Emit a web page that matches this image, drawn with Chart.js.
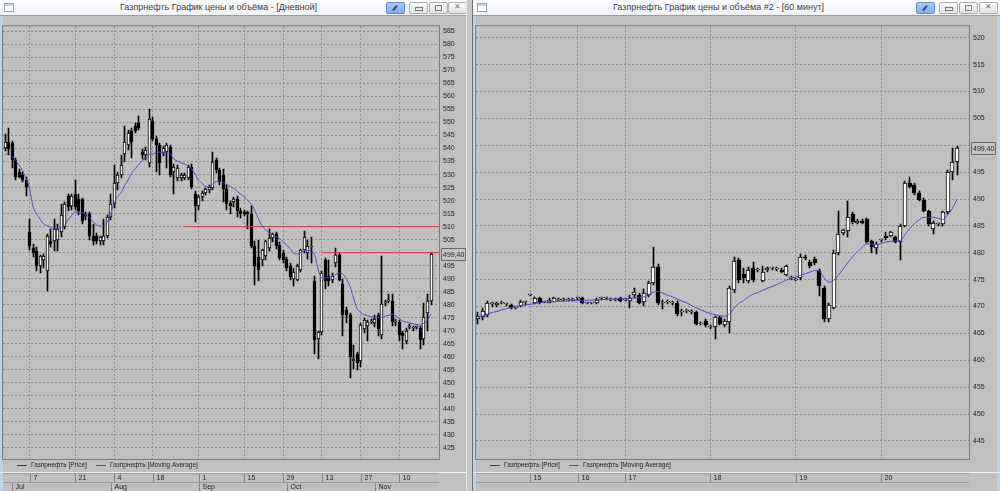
<!DOCTYPE html>
<html lang="ru">
<head>
<meta charset="UTF-8">
<title>Газпрнефть График цены и объёма</title>
<script src="https://cdn.jsdelivr.net/npm/chart.js"></script>
<style>
  html, body { margin: 0; padding: 0; }
  body { width: 1000px; height: 491px; overflow: hidden; background: #c0c0c0; position: relative; font-family: "Liberation Sans", Arial, sans-serif; }
  .win { position: absolute; top: 0; height: 491px; background: #c0c0c0; overflow: hidden; }
  .win canvas { position: absolute; left: 0; top: 18px; }
  .edge { position: absolute; top: 16px; bottom: 0; width: 3px; background: #bdd3ec; }
  .bar { position: absolute; left: 0; right: 0; top: 0; height: 15px; background: linear-gradient(#ffffff, #edf0f5); border-bottom: 1px solid #9c9c9c; }
  .bar .title { position: absolute; top: 2px; font-size: 9px; color: #3c3c3c; white-space: nowrap; }
  .bar .icon { position: absolute; left: 4px; top: 3px; width: 8px; height: 7px; border: 1px solid #8aa0bb; background: linear-gradient(#c5d6ea 0 2px, #ffffff 2px); }
  .btn { position: absolute; top: 2px; width: 17px; height: 10px; border: 1px solid #a9a9a9; border-radius: 2px; background: linear-gradient(#fbfbfb, #e2e2e2); }
  .btn.pin { background: linear-gradient(#a8ccf4, #7cafe9); border-color: #5b8ecf; }
  .btn.pin::after { content: ""; position: absolute; left: 7px; top: 2px; width: 2px; height: 6px; background: #23467a; transform: rotate(40deg); }
  .btn.min::after { content: ""; position: absolute; left: 5px; top: 4px; width: 6px; height: 2px; border: 1px solid #7a7a7a; }
  .btn.max::after { content: ""; position: absolute; left: 5px; top: 2px; width: 5px; height: 4px; border: 1px solid #7a7a7a; }
  .btn.cls::after { content: "\2715"; position: absolute; left: 5px; top: -1px; font-size: 8px; color: #7a7a7a; }
  .split { position: absolute; top: 0; left: 466px; width: 7px; height: 491px; background: linear-gradient(90deg, #e8e8e8 0 1px, #c8c8c8 1px 6px, #6f6f6f 6px); }
</style>
</head>
<body>

<div class="win" style="left:0;width:466px;">
  <div class="bar">
    <span class="icon"></span>
    <span class="title" style="left:120px;">Газпрнефть График цены и объёма - [Дневной]</span>
    <span class="btn pin" style="left:386px;"></span>
    <span class="btn min" style="left:409px;"></span>
    <span class="btn max" style="left:429px;"></span>
    <span class="btn cls" style="left:448px;"></span>
  </div>
  <div class="edge" style="left:0;"></div>
  <canvas id="dayChart" width="466" height="473"></canvas>
</div>
<div class="split"></div>
<div class="win" style="left:473px;width:527px;">
  <div class="bar">
    <span class="icon"></span>
    <span class="title" style="left:140px;">Газпрнефть График цены и объёма #2 - [60 минут]</span>
    <span class="btn pin" style="left:443px;"></span>
    <span class="btn min" style="left:466px;"></span>
    <span class="btn max" style="left:486px;"></span>
    <span class="btn cls" style="left:506px;"></span>
  </div>
  <div class="edge" style="left:0;"></div>
  <div class="edge" style="right:0;"></div>
  <canvas id="hourChart" width="527" height="473"></canvas>
</div>

<script>
// Daily chart (Дневной)
const dayOpen = [540.1,542.5,542,535.6,531,530,528,508,501.6,500.5,
  494.8,497,493,504.6,504.6,505,508,510,521.6,518,
  522.4,520.5,520.5,514,514.8,506.5,506.5,504.6,504.6,506.5,
  513.7,518.6,526.9,529.9,538,541.2,546.9,548.8,549.9,538.6,
  537.5,534.4,550.6,543.8,541.2,538.2,538.6,540.5,531,528.8,
  528.8,528.8,528.8,533,522.4,517.8,521.2,523,524,525,
  535.6,531.8,530,524.5,519,519.5,520.5,516,515.5,515.5,
  514.8,502.7,498.5,497.1,498.6,501.6,505.5,507,503,500,
  497.5,495,490,489.5,493.3,500.9,500,502,489.2,466.9,
  469.5,497.1,491,489.5,495.9,499,488,478,476,458.2,
  461,458.2,470.7,471.8,473.3,473,476,468.4,480.8,481.6,
  481.6,473.3,473.3,469,466,471.5,471.2,471.4,471,466.9,
  477,481.6];
const dayHigh = [545.7,548,543,536.5,532,531,529,513,503.5,502,
  499,499.5,507,509,512.9,511,518.6,519.5,522.5,522.5,
  528,522.5,521,515.5,515.5,511,507.5,506.5,513,514.5,
  522.4,533.7,531,537.5,548.8,547,548,550,552.5,540,
  540.5,555.2,552,545,542,541,542,541.5,534,533.5,
  530.5,530.5,533.5,534,523.5,522,523.5,525,526,538.6,
  536.5,532.5,532,526,520,521.5,521.6,517,516.5,516,
  518,504.6,505,501.5,505,509,507.5,508,504,501,
  498.5,496,494,495.5,501.5,508.4,505,506,491,470,
  493,498,497,492,501.6,500,490,479,477,464.5,
  462,473,475,474,474.5,476,477,498.6,482,484,
  484,474.5,474,470,471,472.5,472,472,472,480.8,
  484,500];
const dayLow = [539,537.5,532.5,528,528.5,527,521.6,501,498.5,493,
  492,494,485.4,502,500.5,500.5,506,509,516,516.5,
  516.5,514.5,511,512.5,505,503,503.5,503,503,505.5,
  512.5,517,524,528.5,535,539.5,536.3,546,547,536,
  535.5,533,543,531,530,537,532.5,529,522.4,527.5,
  527.5,528,528,524.5,511.8,516.5,520,522,523,524,
  530.5,526,519.5,516.5,515,517.5,513.7,513.5,514,509.2,
  501.6,487.6,489,495,497,500.5,504,501.5,497,496,
  493,489.5,487,489,492.5,500,497.5,495.9,461.2,459.3,
  468.5,486,487,488.5,494.5,489,468,473,451.8,455.2,
  455,456,469,466,472.5,471.5,468,467,479.5,480.5,
  472,472,466,463.1,465,470.5,470,470.5,463,464.6,
  470,480];
const dayClose = [542.4,540,535.6,529.2,529.2,528,525.4,502.4,499.7,494.8,
  498.6,498.6,506.5,503.5,509.2,509.2,514.5,518.6,517.5,521.6,
  517.5,515.9,512.2,514.8,506.5,504.6,504.6,506,506.5,513.7,
  518.6,526.9,529.9,533.7,542.4,545.8,542.4,546.9,548,537.5,
  539.3,551.4,543.8,541.2,534.4,540.1,541.2,529.9,532.9,532.5,
  529.9,530,533,525.4,517.8,521.2,523,524.5,525.4,534.8,
  531.8,527,524.5,518.6,518,520.5,515.9,514.8,515,514.8,
  502.7,494.8,493.3,500.9,504.6,505.8,507,502.4,497.8,497,
  494,490.5,492.5,494.8,500.9,506.1,502.5,502.3,466.5,469.5,
  492,489.2,489,491,499,489.5,476,476,460.1,459.3,
  457.5,472.2,474.1,473.3,473.6,474.7,470.7,480.1,481.2,482,
  473.3,473.6,468.4,468,470,471.7,471.4,471.6,466.5,475.2,
  481.6,499.4];
const dayMa = [537.7,538.1,537,535.5,533.7,531.5,528.5,524.5,517.5,515,
  512.8,511,510.4,509.8,509.2,509.2,509.8,510.6,512.8,514.4,
  515.6,515.6,515.4,514.5,513.4,511.9,510.7,510.2,510.5,511.8,
  515,519,521.6,523,525.8,528,530.6,532.3,533.9,535.3,
  536.9,537.8,538,538.4,538.6,538.6,538.4,537.8,535.9,535.2,
  534.5,534.1,533.4,532.2,530.1,527.7,526.7,525.4,525.6,526.4,
  527.3,527.5,527,526.1,525.4,524.6,523.5,522.4,521.4,520,
  518.4,516.2,513,510.3,508.8,507.7,506.9,506.1,505.3,504.2,
  502.9,501.6,499.7,499.5,500.1,500.6,500.9,500.7,499,493.3,
  490.3,490.2,490.6,491,491.7,492.2,491.8,489.8,487,482.5,
  478.5,477.1,476.2,475.8,475.4,475.2,475.2,475.2,475.6,476,
  476.3,475.8,474.6,473.7,473.3,473,472.6,472.4,472.2,472.9,
  474.1,476.5];
const dayYTicks = [425,430,435,440,445,450,455,460,465,470,475,480,485,490,495,500,
  505,510,515,520,525,530,535,540,545,550,555,560,565,570,575,580,585];
const dayTickIdx = [7, 20, 31, 42, 55, 68, 79, 90, 101, 112];
const dayTickText = ['7', '21', '4', '18', '1', '15', '29', '13', '27', '10'];
const monthIdx = [2, 30, 55, 80, 105];
const monthText = ['Jul', 'Aug', 'Sep', 'Oct', 'Nov'];
const dayLevels = [510, 500];
const dayLevelFrom = [51, 90];

// Hourly chart (60 минут)
const hourOpen = [467.7,468,468.5,470.4,470.3,470.7,470.4,470.3,469.8,470.1,
  470.8,472.1,470.7,471.5,470.9,470.7,470.9,471.3,471.3,471.3,
  471.3,471.5,471.5,470.7,470.7,470.7,471.5,471.5,471.3,471.3,
  471.5,471.3,471,472.1,472.1,470.8,472.2,474.4,477.4,470.7,
  470.9,470.7,470.7,468.9,469.2,469,468.9,466.8,467.4,466.2,
  466.2,468,466.5,467.1,473.1,478.6,476,474.7,477.2,476.8,
  474.7,476.8,477.1,477,476.8,475.8,475.3,475,475.3,479.2,
  478.3,478.9,476.7,473.5,467.7,469.8,479.9,483.6,484.1,487.2,
  485.6,485.9,486.2,482.2,480.8,482.3,483.2,483.2,482.9,482,
  485,492.9,492.6,491.1,489.9,487.8,484.4,485.3,485.3,487.5,
  495.1,496.9];
const hourHigh = [469,469.8,471,470.8,470.9,471,470.7,470.5,470.1,471.2,
  471,472.3,471.8,471.7,471.1,471.5,471.7,471.5,471.5,471.5,
  471.6,471.7,471.7,470.9,470.9,471.5,471.7,471.7,471.5,471.5,
  471.7,471.5,472.2,473.5,472.5,473.2,474.8,481.1,478,471.3,
  471.2,471,471,469.5,469.6,469.3,469.2,467.1,467.7,466.5,
  468.3,468.3,467.7,473.8,479.2,479,477.1,477.4,478.3,477.1,
  477.5,477.4,477.4,477.3,477.1,477.8,475.6,475.3,479.8,479.5,
  478.6,479.2,477,473.8,470.6,480.5,487.8,484.5,489.6,487.6,
  486.2,486.2,486.5,482.4,482,482.6,483.8,484.1,483.1,485.3,
  493.3,494.1,492.9,491.4,490.2,488,485.9,485.6,487.8,495.4,
  499.5,499.9];
const hourLow = [466.8,467.5,468,470,470,470.5,470.1,469.6,469.6,470,
  470.2,471.9,470.5,470.4,470.7,470.6,470.8,471.1,471.1,471.1,
  471.1,471.3,470.5,470.5,470.5,470.5,471.3,471.3,471.1,471.1,
  470.9,471.1,469.8,471.5,470.5,470.1,471.8,474,470.2,469.5,
  470.4,470.3,468.3,468.2,468.8,468.6,466.5,466.5,466.2,465.8,
  464,466.5,466.2,465,472.5,474.4,474.4,474.4,474.5,476.5,
  474.5,476.5,476.8,476.7,476.3,475.6,475,474.7,475,478.7,
  477.2,477.8,472,467.2,467.2,469.5,479.5,483.3,483,485.4,
  485.3,485.3,481.8,480,479.8,482,482.4,483,481.8,478.6,
  484.8,492,490.8,489.6,487.5,485,483.5,485,485,487.2,
  493.5,494.5];
const hourClose = [468.3,469.2,470.7,470.4,470.6,470.7,470.4,469.8,469.8,470.8,
  470.8,472.1,471.6,470.6,470.9,471.3,471.5,471.3,471.3,471.3,
  471.3,471.5,470.7,470.7,470.7,471.3,471.5,471.5,471.3,471.3,
  471.1,471.3,471.6,472.7,470.7,472.6,474.4,477.4,470.6,470.7,
  470.9,470.7,468.6,468.9,469.2,469,466.8,466.8,466.5,466.2,
  468,466.8,467.4,473.5,478.4,475,475.3,476.8,474.9,476.8,
  476.5,477.1,477.1,477,476.5,477.5,475.3,475,479.3,479,
  477.5,478.1,473.9,467.7,470.3,479.9,483.5,484.2,486.6,485.7,
  485.9,485.6,482,481.1,481.7,482.3,482.7,483.8,482,485,
  492.9,492.3,491.1,489.9,487.8,485.3,485.6,485.3,487.5,495.1,
  496.9,499.4];
const hourMa = [468,468.3,468.6,468.9,469.1,469.4,469.6,469.8,470,470.2,
  470.3,470.4,470.6,470.7,470.8,470.9,470.95,471,471,471.05,
  471.1,471.1,471.15,471.2,471.2,471.25,471.3,471.3,471.4,471.4,
  471.45,471.5,471.55,471.6,471.7,471.8,472.2,472.7,472.8,472.5,
  472.1,471.8,471.4,471,470.7,470.2,469.8,469.4,469,468.7,
  468.5,468.3,468.2,468.6,469.7,470.6,471.1,471.8,472.3,472.6,
  473,473.4,473.7,474.1,474.5,474.9,475.3,475.5,475.8,476.1,
  476.4,476.7,476.6,475.3,474.5,474.9,475.8,477,478.2,479.3,
  480.2,481,481.7,481.6,481.5,481.7,482,482.1,482.2,482.3,
  483.3,484.5,485.4,486.1,486.6,486.6,486.6,486.4,486.2,487,
  488.2,490];
const hourYTicks = [445,450,455,460,465,470,475,480,485,490,495,500,505,510,515,520];
const hourTickIdx = [11, 21, 31, 49, 67, 85];
const hourTickText = ['15', '16', '17', '18', '19', '20'];

const legendText = ['Газпрнефть [Price]', 'Газпрнефть [Moving Average]'];
const MA_COLOR = '#4b4bd0';
const GRID = '#8c8c8c';
const FONT = '"Liberation Sans", Arial, sans-serif';

// keep candle bodies and wicks on whole pixels so white bodies stay white
const snap = {
  id: 'snap',
  afterDatasetsUpdate(chart) {
    chart.data.datasets.forEach((ds, i) => {
      if (ds.type !== 'bar') return;
      const odd = ds.barThickness % 2 === 1;
      chart.getDatasetMeta(i).data.forEach(el => {
        el.x = odd ? Math.floor(el.x) + 0.5 : Math.round(el.x);
        el.y = Math.round(el.y);
        el.base = Math.round(el.base);
        if (el.y === el.base) el.base = el.y + 1;
      });
    });
  }
};

// legend, frame, price box and the date strip under the plot
const decor = {
  id: 'decor',
  beforeDraw(chart) {
    const { ctx, chartArea: a } = chart;
    ctx.save();
    ctx.fillStyle = '#c0c0c0';
    ctx.fillRect(a.left, a.top, a.right - a.left, a.bottom - a.top);
    ctx.restore();
  },
  afterDraw(chart, args, o) {
    const { ctx, chartArea: a, scales: { x, y } } = chart;
    const W = chart.width;
    ctx.save();
    ctx.lineWidth = 1;

    // plot frame
    ctx.strokeStyle = '#7c7c7c';
    ctx.strokeRect(a.left - 0.5, a.top - 0.5, a.right - a.left + 1, a.bottom - a.top + 1);

    // last price box
    const py = Math.round(y.getPixelForValue(o.last)) + 0.5;
    ctx.fillStyle = '#c4c4c4';
    ctx.fillRect(a.right + 2, py - 6, 25, 12);
    ctx.strokeStyle = '#6a6a6a';
    ctx.strokeRect(a.right + 2.5, py - 6, 24, 12);
    ctx.fillStyle = '#1e1e1e';
    ctx.font = '7px ' + FONT;
    ctx.textBaseline = 'middle';
    ctx.fillText(o.last.toFixed(2).replace('.', ','), a.right + 4, py + 0.5);

    // legend
    const ly = 447.5;
    ctx.font = '6.5px ' + FONT;
    [[17, 31, '#3a3a3a'], [96, 110, MA_COLOR]].forEach(([lx, tx, c], i) => {
      ctx.strokeStyle = c;
      ctx.beginPath(); ctx.moveTo(lx, ly); ctx.lineTo(lx + 10, ly); ctx.stroke();
      ctx.fillStyle = '#222';
      ctx.fillText(legendText[i], tx, ly);
    });

    // date strip
    ctx.fillStyle = '#f2f2f2';
    ctx.fillRect(0, 454, W, 1);
    ctx.strokeStyle = '#9a9a9a';
    ctx.beginPath();
    ctx.moveTo(a.left, 455.5); ctx.lineTo(a.right, 455.5);
    ctx.moveTo(a.left, 464.5); ctx.lineTo(a.right, 464.5);
    ctx.stroke();
    ctx.font = '7px ' + FONT;
    ctx.fillStyle = '#222';
    ctx.strokeStyle = '#858585';
    o.ticks.forEach((v, i) => {
      const px = Math.round(x.getPixelForValue(v)) + 0.5;
      ctx.beginPath(); ctx.moveTo(px, 456); ctx.lineTo(px, 464); ctx.stroke();
      ctx.fillText(o.tickText[i], px + 3, 460);
    });
    (o.months || []).forEach((v, i) => {
      const px = Math.round(x.getPixelForValue(v)) + 0.5;
      ctx.beginPath(); ctx.moveTo(px, 465); ctx.lineTo(px, 473); ctx.stroke();
      ctx.fillText(o.monthText[i], px + 3, 469);
    });
    ctx.restore();
  }
};

function candleChart(id, d) {
  const idx = d.open.map((_, i) => i);
  const datasets = [
    {
      type: 'line', data: idx.map(i => ({ x: i, y: d.ma[i] })),
      borderColor: MA_COLOR, borderWidth: 1, pointRadius: 0, cubicInterpolationMode: 'monotone'
    }
  ];
  (d.levels || []).forEach((v, i) => {
    datasets.push({
      type: 'line', data: [{ x: d.levelFrom[i], y: v }, { x: d.xMax, y: v }],
      borderColor: '#d83a3a', borderWidth: 1, pointRadius: 0
    });
  });
  datasets.push({
    type: 'bar', data: idx.map(i => ({ x: i, y: [d.open[i], d.close[i]] })),
    backgroundColor: idx.map(i => d.close[i] >= d.open[i] ? '#ffffff' : '#000000'),
    borderColor: '#000000', borderWidth: 1, borderSkipped: false,
    barThickness: d.body, minBarLength: 1, grouped: false
  });
  datasets.push({
    type: 'bar', data: idx.map(i => ({ x: i, y: [d.low[i], d.high[i]] })),
    backgroundColor: '#000000', borderWidth: 0, barThickness: 1, grouped: false
  });

  return new Chart(document.getElementById(id), {
    type: 'bar',
    data: { datasets },
    plugins: [snap, decor],
    options: {
      responsive: false, animation: false, events: [],
      layout: { padding: { left: d.padLeft, top: 1, right: 0, bottom: 32 } },
      plugins: {
        legend: { display: false }, tooltip: { enabled: false },
        decor: { last: d.close[d.close.length - 1], ticks: d.ticks, tickText: d.tickText, months: d.months, monthText: d.monthText }
      },
      scales: {
        x: {
          type: 'linear', min: d.xMin, max: d.xMax, offset: false,
          afterBuildTicks: s => { s.ticks = d.ticks.map(v => ({ value: v })); },
          afterFit: s => { s.height = 0; },
          ticks: { display: false },
          grid: { color: GRID, drawTicks: false, offset: false },
          border: { display: false, dash: [2, 2] }
        },
        y: {
          position: 'right', min: d.yMin, max: d.yMax,
          afterBuildTicks: s => { s.ticks = d.yTicks.map(v => ({ value: v })); },
          afterFit: s => { s.width = d.axisW; },
          ticks: { font: { family: FONT, size: 7 }, color: '#222', padding: 4 },
          grid: { color: GRID, drawTicks: false },
          border: { display: false, dash: [2, 2] }
        }
      }
    }
  });
}

candleChart('dayChart', {
  open: dayOpen, high: dayHigh, low: dayLow, close: dayClose, ma: dayMa,
  levels: dayLevels, levelFrom: dayLevelFrom,
  ticks: dayTickIdx, tickText: dayTickText, months: monthIdx, monthText: monthText,
  yTicks: dayYTicks, yMin: 420.73, yMax: 587.0,
  xMin: -0.57, xMax: 123.27, body: 3, padLeft: 3, axisW: 27
});

candleChart('hourChart', {
  open: hourOpen, high: hourHigh, low: hourLow, close: hourClose, ma: hourMa,
  ticks: hourTickIdx, tickText: hourTickText,
  yTicks: hourYTicks, yMin: 441.65, yMax: 522.14,
  xMin: -0.42, xMax: 103.53, body: 4, padLeft: 3, axisW: 31
});
</script>
</body>
</html>
